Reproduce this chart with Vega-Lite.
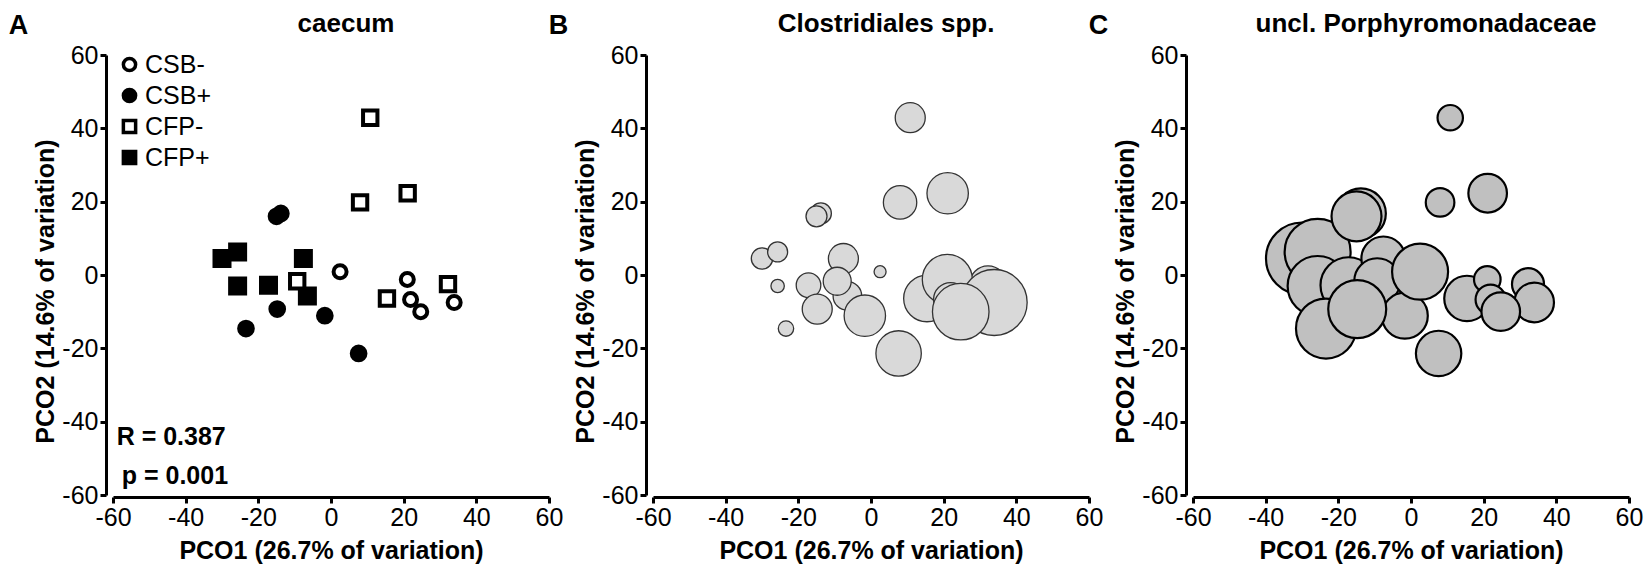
{
  "$schema": "https://vega.github.io/schema/vega-lite/v6.json",
  "background": "white",
  "padding": {"left": 8, "top": 10, "right": 2, "bottom": 2},
  "bounds": "flush",
  "spacing": 104,
  "config": {
    "font": "Liberation Sans",
    "view": {"stroke": null},
    "axis": {
      "domainColor": "black", "domainWidth": 3, "tickColor": "black", "tickWidth": 3, "tickSize": 6,
      "labelFont": "Liberation Sans", "labelFontSize": 25, "labelColor": "black", "labelPadding": 2,
      "titleFont": "Liberation Sans", "titleFontSize": 25, "titleFontWeight": "bold", "titleColor": "black",
      "grid": false, "labelFlush": false, "labelOverlap": false
    },
    "axisX": {"offset": 2, "titlePadding": 8},
    "axisY": {"offset": 7, "titlePadding": 3, "titleY": 236},
    "legend": {
      "title": null, "orient": "top-left", "offset": -3, "padding": 0,
      "labelFont": "Liberation Sans", "labelFontSize": 25, "labelColor": "black",
      "rowPadding": 4, "symbolStrokeColor": "black", "symbolStrokeWidth": 3.5, "symbolSize": 150,
      "symbolOffset": 7, "labelOffset": 3
    },
    "title": {"font": "Liberation Sans", "fontSize": 26, "fontWeight": "bold", "color": "black", "dx": 15, "offset": -25}
  },
  "datasets": {
    "pts": [
      {"group": "CFP+", "pco1": -30.0, "pco2": 4.5, "clos": 2.86, "porph": 32.4},
      {"group": "CFP+", "pco1": -25.7, "pco2": 6.3, "clos": 2.5, "porph": 27.2},
      {"group": "CFP+", "pco1": -25.7, "pco2": -3.0, "clos": 1.12, "porph": 22.5},
      {"group": "CFP+", "pco1": -17.2, "pco2": -2.8, "clos": 3.78, "porph": 19.6},
      {"group": "CFP+", "pco1": -7.6, "pco2": 4.5, "clos": 5.63, "porph": 12.1},
      {"group": "CFP+", "pco1": -6.5, "pco2": -5.7, "clos": 5.11, "porph": 13.2},
      {"group": "CFP-", "pco1": 10.8, "pco2": 42.9, "clos": 5.63, "porph": 4.03},
      {"group": "CFP-", "pco1": 8.0, "pco2": 19.8, "clos": 6.97, "porph": 5.11},
      {"group": "CFP-", "pco1": 21.1, "pco2": 22.3, "clos": 10.71, "porph": 9.31},
      {"group": "CFP-", "pco1": -9.3, "pco2": -1.7, "clos": 4.9, "porph": 13.2},
      {"group": "CFP-", "pco1": 15.4, "pco2": -6.4, "clos": 13.57, "porph": 12.88},
      {"group": "CFP-", "pco1": 32.2, "pco2": -2.5, "clos": 8.37, "porph": 6.4},
      {"group": "CSB+", "pco1": -23.4, "pco2": -14.6, "clos": 1.48, "porph": 22.5},
      {"group": "CSB+", "pco1": -1.7, "pco2": -11.1, "clos": 10.71, "porph": 13.2},
      {"group": "CSB+", "pco1": -14.8, "pco2": -9.3, "clos": 5.63, "porph": 21.0},
      {"group": "CSB+", "pco1": 7.6, "pco2": -21.4, "clos": 12.88, "porph": 12.88},
      {"group": "CSB+", "pco1": -13.8, "pco2": 16.8, "clos": 2.76, "porph": 15.6},
      {"group": "CSB+", "pco1": -15.0, "pco2": 16.0, "clos": 2.76, "porph": 15.6},
      {"group": "CSB-", "pco1": 2.5, "pco2": 0.9, "clos": 0.9, "porph": 19.6},
      {"group": "CSB-", "pco1": 21.0, "pco2": -1.2, "clos": 15.63, "porph": 4.42},
      {"group": "CSB-", "pco1": 21.9, "pco2": -6.7, "clos": 7.23, "porph": 5.63},
      {"group": "CSB-", "pco1": 33.9, "pco2": -7.5, "clos": 27.2, "porph": 9.8},
      {"group": "CSB-", "pco1": 24.7, "pco2": -10.0, "clos": 20.0, "porph": 9.31}
    ]
  },
  "hconcat": [
    {
      "width": 436, "height": 440,
      "title": {"text": "caecum"},
      "layer": [
        {
          "data": {"name": "pts"},
          "mark": {"type": "point", "filled": true, "strokeWidth": 4, "opacity": 1},
          "encoding": {
            "x": {"field": "pco1", "type": "quantitative", "scale": {"domain": [-60, 60], "nice": false, "zero": false}, "axis": {"title": "PCO1 (26.7% of variation)", "values": [-60, -40, -20, 0, 20, 40, 60], "labelExpr": "'' + datum.value"}},
            "y": {"field": "pco2", "type": "quantitative", "scale": {"domain": [-60, 60], "nice": false, "zero": false}, "axis": {"title": "PCO2 (14.6% of variation)", "values": [-60, -40, -20, 0, 20, 40, 60], "labelExpr": "'' + datum.value"}},
            "shape": {"field": "group", "type": "nominal", "scale": {"domain": ["CSB-", "CSB+", "CFP-", "CFP+"], "range": ["circle", "circle", "square", "square"]}},
            "fill": {"field": "group", "type": "nominal", "scale": {"domain": ["CSB-", "CSB+", "CFP-", "CFP+"], "range": ["white", "black", "white", "black"]}},
            "stroke": {"field": "group", "type": "nominal", "scale": {"domain": ["CSB-", "CSB+", "CFP-", "CFP+"], "range": ["black", "black", "black", "black"]}},
            "size": {"field": "group", "type": "nominal", "scale": {"domain": ["CSB-", "CSB+", "CFP-", "CFP+"], "range": [169, 225, 196, 196]}, "legend": null}
          }
        },
        {
          "data": {"values": [{"label": "R = 0.387"}]},
          "mark": {"type": "text", "align": "left", "baseline": "middle", "fontSize": 25, "fontWeight": "bold", "color": "black"},
          "encoding": {"x": {"datum": -59, "type": "quantitative"}, "y": {"datum": -44.3, "type": "quantitative"}, "text": {"field": "label"}}
        },
        {
          "data": {"values": [{"label": "p = 0.001"}]},
          "mark": {"type": "text", "align": "left", "baseline": "middle", "fontSize": 25, "fontWeight": "bold", "color": "black"},
          "encoding": {"x": {"datum": -57.6, "type": "quantitative"}, "y": {"datum": -54.7, "type": "quantitative"}, "text": {"field": "label"}}
        },
        {
          "data": {"values": [{"label": "A"}]},
          "mark": {"type": "text", "align": "center", "baseline": "middle", "fontSize": 27, "fontWeight": "bold", "color": "black"},
          "encoding": {"x": {"datum": -86, "type": "quantitative"}, "y": {"datum": 68, "type": "quantitative"}, "text": {"field": "label"}}
        }
      ]
    },
    {
      "width": 436, "height": 440,
      "title": {"text": "Clostridiales spp."},
      "layer": [
        {
          "data": {"name": "pts"},
          "mark": {"type": "circle", "fill": "#d9d9d9", "stroke": "#333333", "strokeWidth": 1.3, "opacity": 1},
          "encoding": {
            "x": {"field": "pco1", "type": "quantitative", "scale": {"domain": [-60, 60], "nice": false, "zero": false}, "axis": {"title": "PCO1 (26.7% of variation)", "values": [-60, -40, -20, 0, 20, 40, 60], "labelExpr": "'' + datum.value"}},
            "y": {"field": "pco2", "type": "quantitative", "scale": {"domain": [-60, 60], "nice": false, "zero": false}, "axis": {"title": "PCO2 (14.6% of variation)", "values": [-60, -40, -20, 0, 20, 40, 60], "labelExpr": "'' + datum.value"}},
            "size": {"field": "clos", "type": "quantitative", "scale": {"type": "linear", "domain": [0, 40], "range": [0, 6400], "zero": true}, "legend": null}
          }
        },
        {
          "data": {"values": [{"label": "B"}]},
          "mark": {"type": "text", "align": "center", "baseline": "middle", "fontSize": 27, "fontWeight": "bold", "color": "black"},
          "encoding": {"x": {"datum": -86, "type": "quantitative"}, "y": {"datum": 68, "type": "quantitative"}, "text": {"field": "label"}}
        }
      ]
    },
    {
      "width": 436, "height": 440,
      "title": {"text": "uncl. Porphyromonadaceae"},
      "layer": [
        {
          "data": {"name": "pts"},
          "mark": {"type": "circle", "fill": "#c0c0c0", "stroke": "black", "strokeWidth": 2.2, "opacity": 1},
          "encoding": {
            "x": {"field": "pco1", "type": "quantitative", "scale": {"domain": [-60, 60], "nice": false, "zero": false}, "axis": {"title": "PCO1 (26.7% of variation)", "values": [-60, -40, -20, 0, 20, 40, 60], "labelExpr": "'' + datum.value"}},
            "y": {"field": "pco2", "type": "quantitative", "scale": {"domain": [-60, 60], "nice": false, "zero": false}, "axis": {"title": "PCO2 (14.6% of variation)", "values": [-60, -40, -20, 0, 20, 40, 60], "labelExpr": "'' + datum.value"}},
            "size": {"field": "porph", "type": "quantitative", "scale": {"type": "linear", "domain": [0, 40], "range": [0, 6400], "zero": true}, "legend": null}
          }
        },
        {
          "data": {"values": [{"label": "C"}]},
          "mark": {"type": "text", "align": "center", "baseline": "middle", "fontSize": 27, "fontWeight": "bold", "color": "black"},
          "encoding": {"x": {"datum": -86, "type": "quantitative"}, "y": {"datum": 68, "type": "quantitative"}, "text": {"field": "label"}}
        }
      ]
    }
  ]
}
